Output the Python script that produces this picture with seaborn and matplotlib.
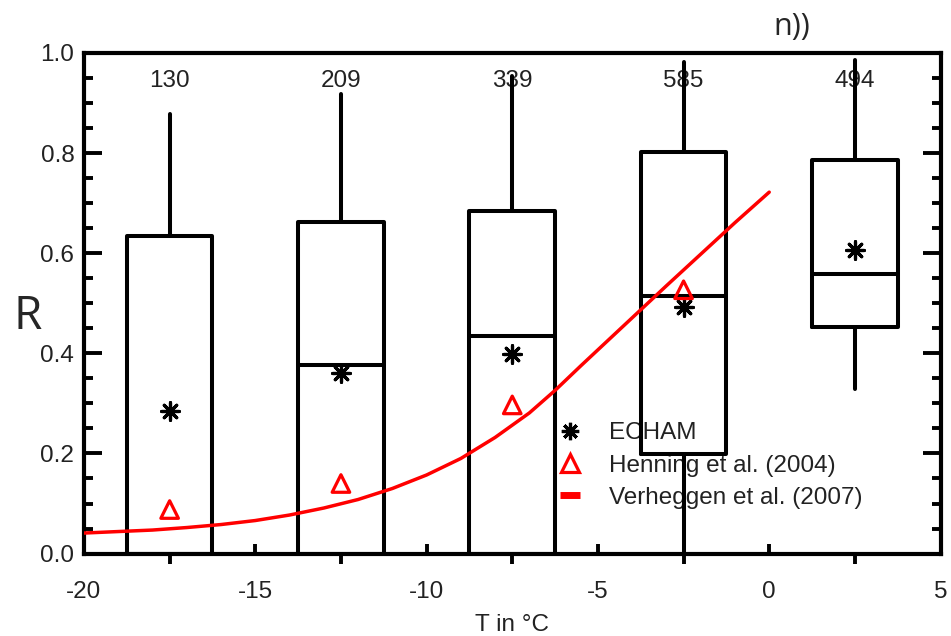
import numpy as np
import pandas as pd
import matplotlib
matplotlib.use("Agg")
import matplotlib.pyplot as plt
from matplotlib.lines import Line2D
import seaborn as sns

# Temperature bins (bin centres, deg C) and sample counts
bin_centres = [-17.5, -12.5, -7.5, -2.5, 2.5]
counts = [130, 209, 339, 585, 494]

# Box statistics of ECHAM R per temperature bin
q1 = [0.0, 0.0, 0.0, 0.199, 0.452]
median = [0.0, 0.376, 0.434, 0.515, 0.559]
q3 = [0.634, 0.663, 0.685, 0.803, 0.786]
whisker_low = [0.0, 0.0, 0.0, 0.0, 0.328]
whisker_high = [0.878, 0.918, 0.954, 0.981, 0.986]

# ECHAM bin means
echam_mean = [0.285, 0.360, 0.398, 0.493, 0.607]

# Henning et al. (2004) observations
henning_T = [-17.5, -12.5, -7.5, -2.5]
henning_R = [0.088, 0.140, 0.297, 0.527]

# Verheggen et al. (2007) fit
verheggen_T = [-20.0, -19.0, -18.0, -17.0, -16.0, -15.0, -14.0, -13.0,
               -12.0, -11.0, -10.0, -9.0, -8.0, -7.0, -6.25, -5.5, -5.0,
               -4.0, -3.0, -2.0, -1.0, 0.0]
verheggen_R = [0.041, 0.044, 0.047, 0.052, 0.058, 0.066, 0.077, 0.091,
               0.108, 0.130, 0.157, 0.190, 0.232, 0.281, 0.326, 0.375, 0.407,
               0.471, 0.535, 0.598, 0.661, 0.722]

sns.set_style("white")
plt.rcParams["font.family"] = ["Liberation Sans", "DejaVu Sans"]

FS = 17.5
TXT = "#222222"

fig = plt.figure(figsize=(9.51, 6.36), dpi=100)
ax = fig.add_axes([0.0883, 0.1296, 0.9007, 0.7871])

# Box-and-whisker plot from the precomputed statistics
stats = [
    dict(q1=a, med=m, q3=b, whislo=lo, whishi=hi, fliers=[])
    for a, m, b, lo, hi in zip(q1, median, q3, whisker_low, whisker_high)
]
lw_box = 2.9
ax.bxp(stats, positions=bin_centres, widths=2.5, showcaps=False,
       showfliers=False, patch_artist=False,
       boxprops=dict(color="black", linewidth=lw_box),
       whiskerprops=dict(color="black", linewidth=lw_box),
       medianprops=dict(color="black", linewidth=lw_box),
       manage_ticks=False, zorder=3)

# Verheggen curve
curve = pd.DataFrame({"T": verheggen_T, "R": verheggen_R})
sns.lineplot(data=curve, x="T", y="R", ax=ax, color="red", linewidth=2.5,
             zorder=4, legend=False)

# ECHAM means
means = pd.DataFrame({"T": bin_centres, "R": echam_mean})
sns.scatterplot(data=means, x="T", y="R", ax=ax, marker=(8, 2, 0), s=160,
                color="black", edgecolor="black", linewidth=2.3, zorder=5,
                legend=False)

# Henning observations
hen = pd.DataFrame({"T": henning_T, "R": henning_R})
sns.scatterplot(data=hen, x="T", y="R", ax=ax, marker="^", s=160,
                facecolor="none", edgecolor="red", linewidth=2.3, zorder=5,
                legend=False)

# Sample counts above each bin
for xc, n in zip(bin_centres, counts):
    ax.text(xc, 0.944, str(n), ha="center", va="center", fontsize=FS,
            color=TXT, zorder=1)

ax.set_xlim(-20, 5)
ax.set_ylim(0, 1.0)
ax.set_xlabel("T in °C", fontsize=FS, labelpad=8, color=TXT)
ax.set_ylabel("")

for sp in ax.spines.values():
    sp.set_linewidth(3.0)
    sp.set_color("black")
    sp.set_visible(True)

ax.set_xticks([-20, -15, -10, -5, 0, 5])
ax.set_xticklabels(["-20", "-15", "-10", "-5", "0", "5"])
ax.set_xticks(bin_centres, minor=True)
ax.set_yticks([0.0, 0.2, 0.4, 0.6, 0.8, 1.0])
ax.set_yticklabels(["0.0", "0.2", "0.4", "0.6", "0.8", "1.0"])
ax.set_yticks(np.arange(0, 1.0001, 0.05), minor=True)

ax.tick_params(axis="x", which="major", direction="in", length=7.5, width=2.8,
               labelsize=FS, pad=20, top=False, bottom=True, colors="black",
               labelcolor=TXT)
ax.tick_params(axis="x", which="minor", direction="out", length=7.5, width=2.8,
               top=False, bottom=True, colors="black")
ax.tick_params(axis="y", which="major", direction="in", length=13, width=2.8,
               labelsize=FS, pad=7, left=True, right=True, colors="black",
               labelcolor=TXT)
ax.tick_params(axis="y", which="minor", direction="in", length=6.5, width=2.8,
               left=True, right=True, colors="black")

# Legend, drawn beneath the boxes
handles = [
    Line2D([], [], linestyle="none", marker=(8, 2, 0), markersize=12.5,
           markeredgewidth=2.3, color="black"),
    Line2D([], [], linestyle="none", marker="^", markersize=13,
           markerfacecolor="none", markeredgecolor="red", markeredgewidth=2.3),
    Line2D([], [], color="red", linewidth=5, solid_capstyle="butt"),
]
labels = ["ECHAM", "Henning et al. (2004)", "Verheggen et al. (2007)"]
leg = ax.legend(handles, labels, loc="upper left",
                bbox_to_anchor=(0.556, 0.262), frameon=False, fontsize=FS,
                handlelength=0.8, handletextpad=1.2, labelspacing=0.42,
                borderpad=0, borderaxespad=0)
leg.set_zorder(1)
for t in leg.get_texts():
    t.set_color(TXT)

fig.text(0.029, 0.502, "R", fontsize=33, family="Open Sans", ha="center",
         va="center")
fig.text(0.833, 0.957, "n))", fontsize=22, family="Open Sans", ha="center",
         va="center")

fig.savefig("out.png", dpi=100, facecolor="white")
